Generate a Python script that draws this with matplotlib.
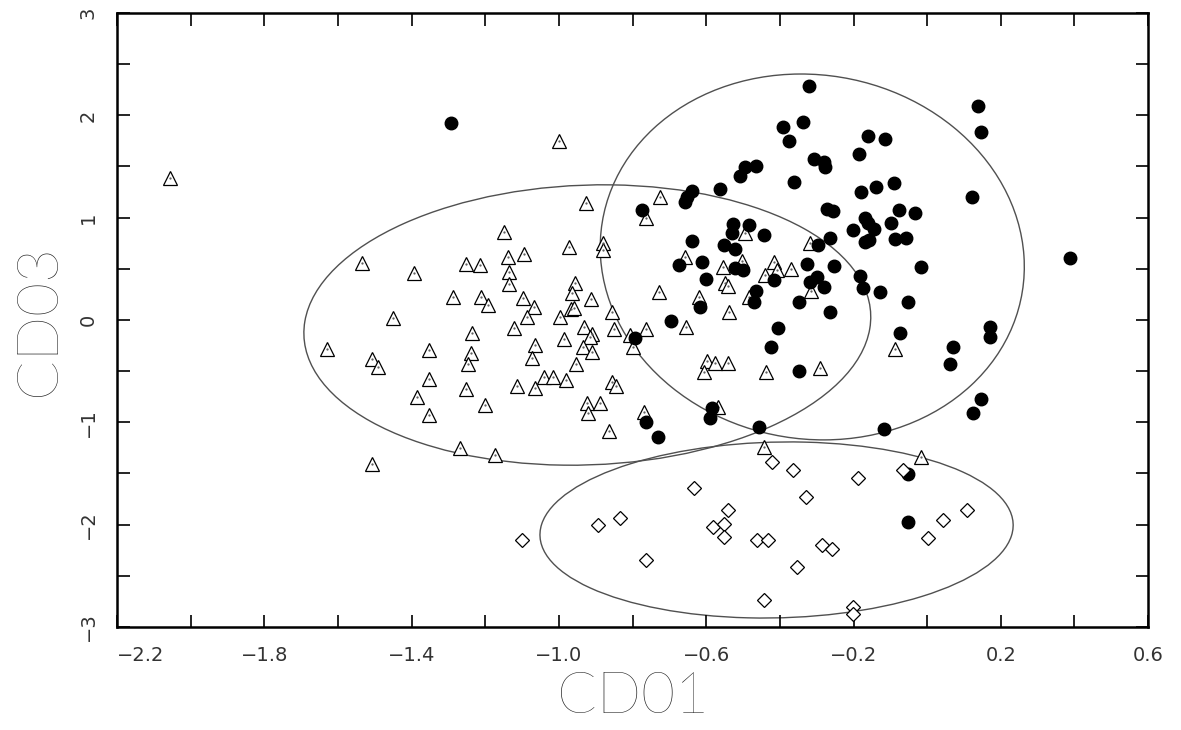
import numpy as np
import matplotlib
matplotlib.use("Agg")
import matplotlib.pyplot as plt
from matplotlib.patches import Ellipse
from matplotlib.ticker import MultipleLocator

# group 1: open triangles
tri_x = [-2.057, -1.534, -1.393, -1.451, -1.629, -1.507, -1.492, -1.353, -1.353, -1.386, -1.353, -1.507,
         -1.001, -0.926, -0.725, -0.764, -1.148, -0.973, -0.881, -0.881, -0.657, -1.252, -1.214, -1.138,
         -1.095, -1.135, -1.136, -0.956, -0.965, -1.289, -1.212, -1.192, -1.098, -1.069, -1.088, -0.996,
         -0.968, -0.959, -0.913, -0.729, -0.856, -1.121, -0.933, -0.911, -0.915, -0.850, -0.764, -0.655,
         -0.806, -0.798, -1.237, -1.239, -1.246, -1.065, -1.073, -0.985, -0.935, -0.911, -0.953, -1.252,
         -1.113, -1.065, -1.040, -1.015, -0.980, -0.856, -0.845, -1.200, -0.924, -0.888, -0.921, -0.770,
         -0.864, -1.268, -1.173, -0.555, -0.503, -0.417, -0.408, -0.440, -0.548, -0.541, -0.621, -0.485,
         -0.539, -0.598, -0.577, -0.541, -0.607, -0.437, -0.567, -0.442, -0.494, -0.369, -0.315, -0.086,
         -0.290, -0.319, -0.018]
tri_y = [1.385, 0.560, 0.462, 0.017, -0.283, -0.381, -0.462, -0.293, -0.580, -0.756, -0.928, -1.407,
         1.752, 1.146, 1.205, 0.994, 0.863, 0.710, 0.755, 0.684, 0.613, 0.547, 0.537, 0.613,
         0.642, 0.472, 0.349, 0.359, 0.267, 0.228, 0.222, 0.147, 0.218, 0.124, 0.032, 0.032,
         0.104, 0.114, 0.205, 0.276, 0.075, -0.075, -0.071, -0.140, -0.169, -0.088, -0.091, -0.071,
         -0.147, -0.261, -0.124, -0.326, -0.433, -0.244, -0.368, -0.189, -0.267, -0.310, -0.433, -0.677,
         -0.645, -0.668, -0.560, -0.554, -0.586, -0.603, -0.645, -0.831, -0.808, -0.811, -0.912, -0.902,
         -1.082, -1.254, -1.319, 0.521, 0.579, 0.570, 0.489, 0.440, 0.359, 0.332, 0.228, 0.228,
         0.081, -0.401, -0.423, -0.417, -0.505, -0.505, -0.847, -1.238, 0.847, 0.498, 0.286, -0.283,
         -0.466, 0.755, -1.339]

# group 2: filled circles
circ_x = [-1.293, -0.639, -0.652, -0.659, -0.774, -0.639, -0.673, -0.695, -0.793, -0.763, -0.732, -0.616,
          -0.612, -0.521, -0.499, -0.601, -0.417, -0.465, -0.471, -0.404, -0.423, -0.585, -0.589, -0.458,
          -0.496, -0.464, -0.508, -0.562, -0.527, -0.485, -0.530, -0.442, -0.551, -0.521, -0.320, -0.392,
          -0.336, -0.376, -0.161, -0.115, -0.186, -0.306, -0.281, -0.277, -0.361, -0.180, -0.138, -0.091,
          -0.272, -0.257, -0.076, -0.034, -0.168, -0.161, -0.143, -0.201, -0.097, -0.263, -0.296, -0.168,
          -0.159, -0.086, -0.057, 0.137, 0.147, 0.122, 0.389, -0.326, -0.254, -0.018, -0.299, -0.317,
          -0.281, -0.183, -0.174, -0.127, -0.053, -0.347, -0.265, -0.075, 0.069, 0.061, -0.347, -0.118,
          0.170, 0.172, 0.147, 0.125, -0.051, -0.051]
circ_y = [1.922, 1.261, 1.202, 1.156, 1.075, 0.775, 0.537, -0.005, -0.179, -0.994, -1.139, 0.130,
          0.570, 0.505, 0.489, 0.401, 0.391, 0.286, 0.179, -0.081, -0.261, -0.863, -0.961, -1.043,
          1.498, 1.505, 1.407, 1.280, 0.938, 0.928, 0.853, 0.831, 0.733, 0.691, 2.287, 1.889,
          1.932, 1.752, 1.798, 1.769, 1.622, 1.573, 1.541, 1.492, 1.346, 1.248, 1.303, 1.336,
          1.085, 1.068, 1.075, 1.048, 1.000, 0.945, 0.886, 0.879, 0.945, 0.798, 0.733, 0.759,
          0.782, 0.791, 0.804, 2.094, 1.840, 1.205, 0.608, 0.547, 0.531, 0.521, 0.417, 0.368,
          0.325, 0.430, 0.310, 0.271, 0.173, 0.173, 0.075, -0.130, -0.261, -0.430, -0.496, -1.068,
          -0.066, -0.163, -0.775, -0.906, -1.505, -1.974]

# group 3: open diamonds
dia_x = [-1.100, -0.893, -0.834, -0.763, -0.633, -0.581, -0.551, -0.540, -0.551, -0.461, -0.432, -0.442,
         -0.421, -0.364, -0.353, -0.328, -0.285, -0.258, -0.187, -0.201, -0.201, -0.065, 0.003, 0.044, 0.109]
dia_y = [-2.150, -2.003, -1.935, -2.345, -1.642, -2.023, -1.994, -1.857, -2.121, -2.150, -2.150, -2.736,
         -1.388, -1.466, -2.414, -1.730, -2.199, -2.238, -1.544, -2.805, -2.873, -1.466, -2.130, -1.955, -1.857]

# group ellipses: center, axes, angle
ell_cx = [-0.923, -0.312, -0.409]
ell_cy = [-0.049, 0.616, -2.052]
ell_w = [2.742, 3.576, 1.724]
ell_h = [1.536, 1.150, 1.281]
ell_ang = [87.3, 91.1, 84.8]

plt.rcParams['font.family'] = ['DejaVu Sans']

fig = plt.figure(figsize=(11.81, 7.30), dpi=100)
ax = fig.add_axes([0.0992, 0.1411, 0.8729, 0.8411])

for cx, cy, w, h, a in zip(ell_cx, ell_cy, ell_w, ell_h, ell_ang):
    ax.add_patch(Ellipse((cx, cy), w, h, angle=a, fill=False, edgecolor='#505050', linewidth=1.0))

ax.plot(tri_x, tri_y, linestyle='none', marker='^', markersize=9.5, markerfacecolor='white',
        markeredgecolor='black', markeredgewidth=0.9)
ax.plot(tri_x, tri_y, linestyle='none', marker='.', markersize=1.2, color='#555555')
ax.plot(circ_x, circ_y, linestyle='none', marker='o', markersize=9, markerfacecolor='black',
        markeredgecolor='black')
ax.plot(dia_x, dia_y, linestyle='none', marker='D', markersize=7, markerfacecolor='white',
        markeredgecolor='black', markeredgewidth=0.9)

ax.set_xlim(-2.2, 0.6)
ax.set_ylim(-3, 3)
ax.xaxis.set_minor_locator(MultipleLocator(0.2))
ax.yaxis.set_minor_locator(MultipleLocator(0.5))
ax.set_xticks(np.arange(-2.2, 0.61, 0.4))
ax.set_xticklabels(['\u22122.2', '\u22121.8', '\u22121.4', '\u22121.0', '\u22120.6', '\u22120.2', '0.2', '0.6'])
ax.set_yticks([-3, -2, -1, 0, 1, 2, 3])
ax.set_yticklabels(['\u22123', '\u22122', '\u22121', '0', '1', '2', '3'], rotation=90, va='center')
ax.get_xticklabels()[0].set_ha('left')

ax.tick_params(which='both', direction='in', top=True, right=True, width=1.2,
               labelsize=14, labelcolor='#333333', pad=14)
ax.tick_params(which='both', length=9)
for s in ax.spines.values():
    s.set_linewidth(1.8)

ax.set_xlabel('CD01', fontsize=42, color='#222222', family=['Lato', 'DejaVu Sans'],
              fontweight='light', labelpad=4)
ax.set_ylabel('CD03', fontsize=42, color='#222222', family=['Lato', 'DejaVu Sans'],
              fontweight='light', labelpad=10)

fig.savefig('out.png', dpi=100)
